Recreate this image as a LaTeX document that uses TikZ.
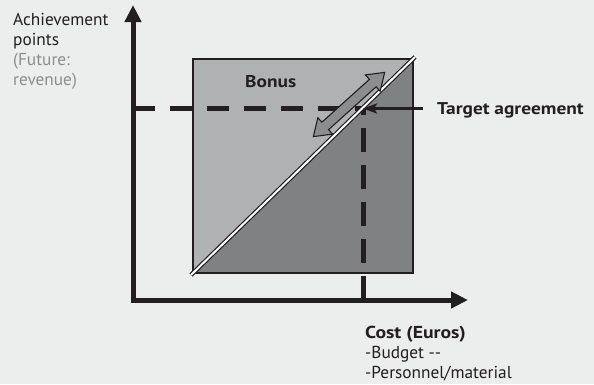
\documentclass[tikz,border=0pt]{standalone}
\usepackage{fontspec}
\setmainfont{PT Sans}[BoldFeatures={FakeStretch=1.14}]
\usetikzlibrary{arrows.meta}
\definecolor{bgc}{RGB}{236,237,237}
\definecolor{lightsq}{RGB}{176,177,179}
\definecolor{darksq}{RGB}{128,129,131}
\definecolor{midarrow}{RGB}{140,141,143}
\definecolor{ink}{RGB}{35,31,32}
\definecolor{greytext}{RGB}{140,141,143}
\tikzset{
  axisline/.style={line width=5pt, draw=ink, -{Triangle[length=17pt,width=16pt]}},
  dashline/.style={line width=5pt, draw=ink},
  lbl/.style={inner sep=0pt, font=\fontsize{17.3}{19.7}\selectfont, text=ink, align=left},
  boldlbl/.style={lbl, font=\fontsize{17}{19.7}\selectfont\bfseries},
}
\begin{document}
\begin{tikzpicture}[x=1pt,y=-1pt]
\useasboundingbox[fill=bgc] (0,0) rectangle (594,384);
% key points
\coordinate (O) at (133,300);
\coordinate (ytip) at (133,5);
\coordinate (xtip) at (468,300);
\coordinate (sqbl) at (193,273);
\coordinate (sqtr) at (413,59);
\coordinate (sqtl) at (193,59);
\coordinate (sqbr) at (413,273);
\coordinate (P) at (363,108.5);
\coordinate (Py) at (133,108.5);
\coordinate (Px) at (363,300);
\coordinate (T) at (423,108.5);
% square halves
\fill[lightsq] (sqbl) -- (sqtl) -- (sqtr) -- cycle;
\fill[darksq] (sqbl) -- (sqbr) -- (sqtr) -- cycle;
\draw[ink, line width=1.2pt] (sqbl) rectangle (sqtr);
% dashed guides
\draw[dashline, dash pattern=on 22pt off 15pt] (Py) -- (P);
\draw[dashline, dash pattern=on 24pt off 13pt] (Px) -- (P);
% diagonal
\draw[ink, line width=1.2pt, double=white, double distance=2pt] (191,275) -- (415,57);
% axes
\draw[axisline] ([yshift=-2.5pt]O) -- (ytip);
\draw[axisline] ([xshift=-2.5pt]O) -- (xtip);
% double arrow
\begin{scope}[shift={(349,104.5)}, rotate=42]
\draw[ink, line width=1.1pt, fill=midarrow, line join=miter]
  (-48,0) -- (-32,11) -- (-32,5) -- (32,5) -- (32,11) -- (48,0)
  -- (32,-11) -- (32,-5) -- (-32,-5) -- (-32,-11) -- cycle;
\end{scope}
% target arrow
\draw[ink, line width=3pt, -{Stealth[length=14pt,width=10pt,inset=3pt]}] (T) -- (P);
% labels
\node[lbl, anchor=base west] (ylabel) at (13,85)
  {Achievement\\points\\\textcolor{greytext}{(Future:}\\\textcolor{greytext}{revenue)}};
\node[boldlbl, anchor=base west] (bonus) at (245,87) {Bonus};
\node[boldlbl, anchor=base west] (target) at (437,114) {Target agreement};
\node[lbl, anchor=base west] (xlabel) at (365,378)
  {\textbf{Cost (Euros)}\\-Budget -{}-\\-Personnel/material};
\end{tikzpicture}
\end{document}
